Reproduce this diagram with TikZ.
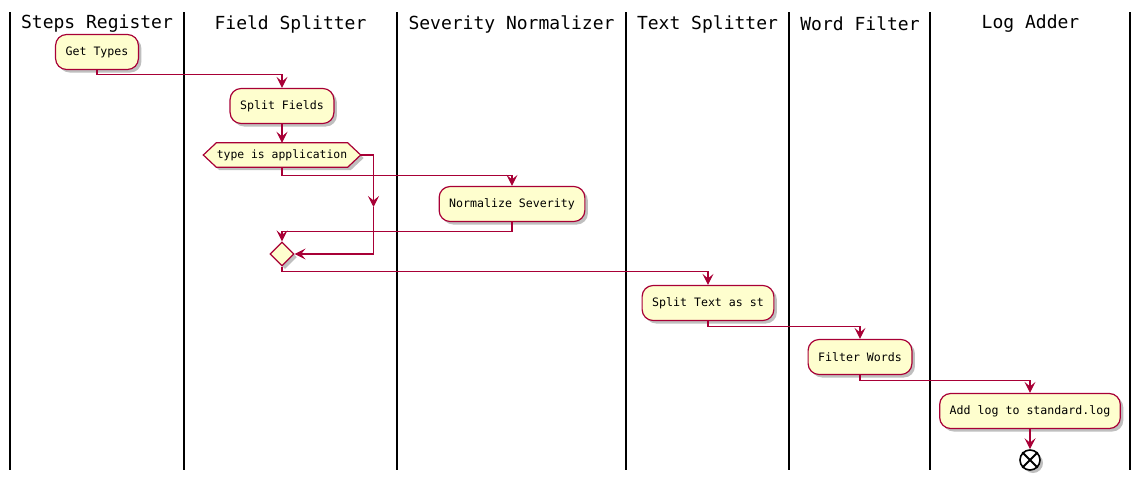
\documentclass[tikz,border=0pt]{standalone}
\usepackage{fontspec}
\setmonofont{DejaVu Sans Mono}
\usetikzlibrary{arrows.meta,shapes.geometric,shadows}
\definecolor{pred}{HTML}{A80036}
\definecolor{pfill}{HTML}{FEFECE}
\begin{document}
\begin{tikzpicture}[x=1pt,y=-1pt,
 lane/.style={line width=1.8pt, black},
 hdr/.style={font=\ttfamily\fontsize{18}{20}\selectfont, anchor=center, inner sep=0pt},
 shad/.style={drop shadow={shadow xshift=3pt,shadow yshift=-3pt,opacity=0.25,fill=black}},
 act/.style={draw=pred, fill=pfill, line width=1.2pt, rounded corners=11pt, font=\ttfamily\fontsize{11.6}{13}\selectfont, minimum height=35pt, inner xsep=10pt, shad},
 conn/.style={draw=pred, line width=1.1pt, -{Stealth[length=11pt,width=11pt,inset=4.5pt]}},
 wire/.style={draw=pred, line width=1.1pt}]
\useasboundingbox (0,0) rectangle (1141,480);
% lanes
\foreach \x in {10,184,397,626,789,930,1130} \draw[lane] (\x,12) -- (\x,470);
\node[hdr] (h1) at (97,24) {Steps Register};
\node[hdr] (h2) at (290.5,24) {Field Splitter};
\node[hdr] (h3) at (511.5,24) {Severity Normalizer};
\node[hdr] (h4) at (707.5,24) {Text Splitter};
\node[hdr] (h5) at (860,24) {Word Filter};
\node[hdr] (h6) at (1030.5,24) {Log Adder};
% activities
\node[act] (get) at (97,52) {Get Types};
\node[act] (split) at (282,106) {Split Fields};
% decision hexagon
\node[minimum width=157pt, minimum height=24pt, inner sep=0pt] (dec) at (282,155) {};
\draw[draw=pred, fill=pfill, line width=1.2pt, shad] (dec.west) -- ([xshift=13pt]dec.north west) -- ([xshift=-13pt]dec.north east) -- (dec.east) -- ([xshift=-13pt]dec.south east) -- ([xshift=13pt]dec.south west) -- cycle;
\node[font=\ttfamily\fontsize{11.4}{13}\selectfont] at (dec) {type is application};
\node[act] (norm) at (512,204) {Normalize Severity};
\node[diamond, draw=pred, fill=pfill, line width=1.2pt, minimum width=24pt, minimum height=24pt, inner sep=0pt, shad] (mer) at (282,254) {};
\node[act] (stext) at (708,303) {Split Text as st};
\node[act] (filt) at (860,357) {Filter Words};
\node[act] (addl) at (1030,411) {Add log to standard.log};
\node[circle, draw=black, fill=white, line width=1.6pt, minimum size=20pt, inner sep=0pt, shad] (end) at (1030,460) {};
\draw[black, line width=1.8pt] (end.north east) -- (end.south west) (end.north west) -- (end.south east);
% connectors
\draw[conn] (get.south) -- ++(0,4) -| (split.north);
\draw[conn] (split.south) -- (dec.north);
\draw[conn] (dec.south) -- ++(0,8) -| (norm.north);
\coordinate (r1) at (373.5,155);
\coordinate (r2) at (373.5,207);
\draw[conn] (dec.east) -- (r1) -- (r2);
\draw[conn] (r2) |- (mer.east);
\draw[conn] (norm.south) -- ++(0,9) -| (mer.north);
\draw[conn] (mer.south) -- ++(0,5) -| (stext.north);
\draw[conn] (stext.south) -- ++(0,5) -| (filt.north);
\draw[conn] (filt.south) -- ++(0,5) -| (addl.north);
\draw[conn] (addl.south) -- (end.north);
\end{tikzpicture}
\end{document}
